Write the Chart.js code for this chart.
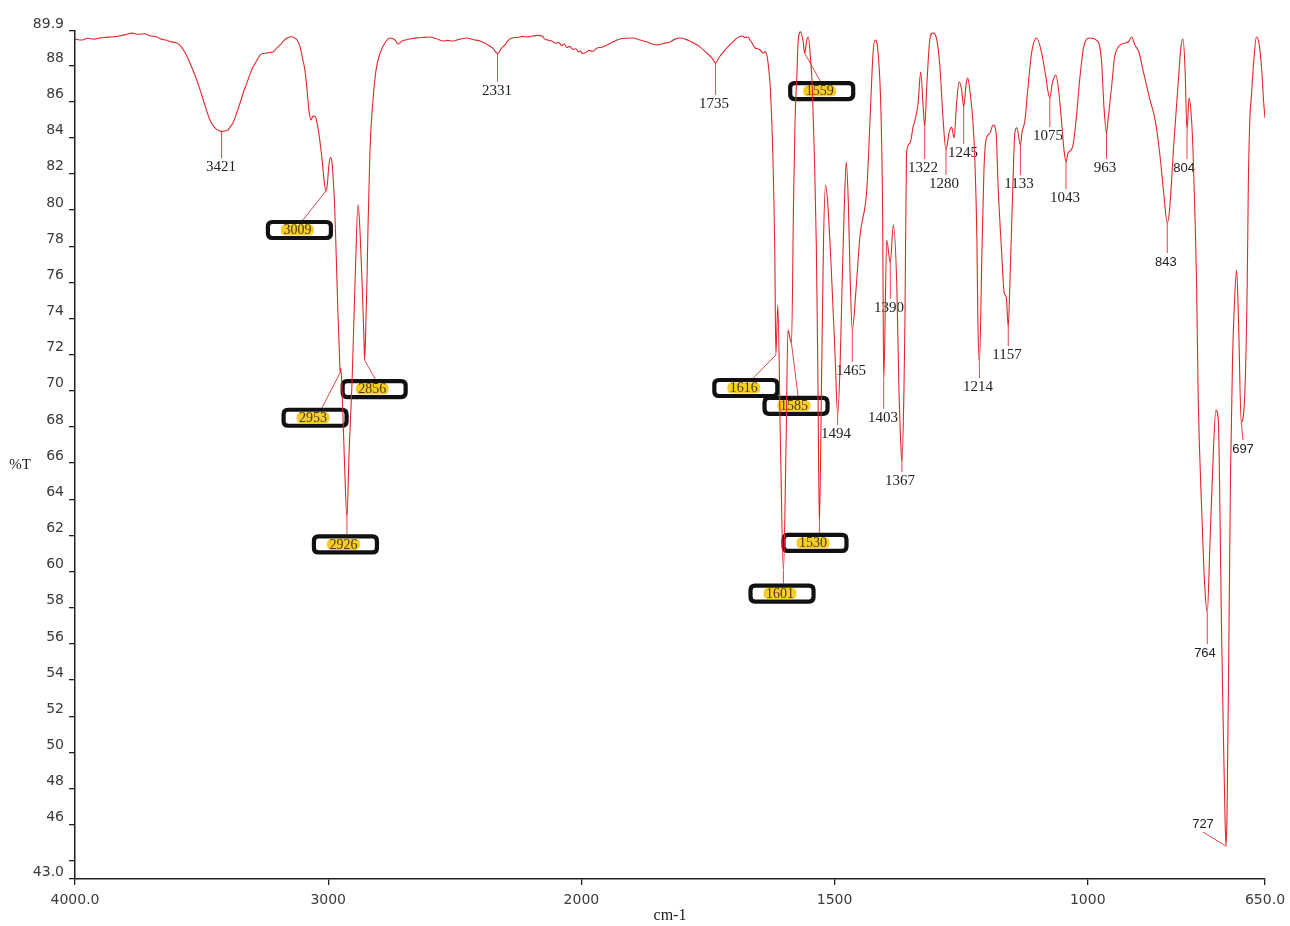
<!DOCTYPE html>
<html>
<head>
<meta charset="utf-8">
<script src="https://cdn.jsdelivr.net/npm/chart.js@4/dist/chart.umd.min.js"></script>
<style>
  html, body { margin: 0; padding: 0; background: #ffffff; }
  #wrap { width: 1290px; height: 926px; position: relative; }
</style>
</head>
<body>
<div id="wrap"><canvas id="c" width="1290" height="926"></canvas></div>
<script>
// ---------------- DATA ----------------
const wavenumbers = [
4000,3975,3950,3925,3900,3875,3850,3825,3800,3775,3750,3725,3700,3680,3660,3640,3620,3600,3585,3565,
3546,3526,3506,3487,3467,3447,3430,3421,3405,3396,3386,3376,3362,3348,3335,3321,3309,3297,3283,3269,
3255,3242,3230,3218,3204,3190,3176,3163,3150,3143,3133,3123,3111,3100,3092,3086,3080,3075,3068,3060,
3050,3044,3038,3030,3024,3016,3009,3004,2997,2992,2986,2980,2975,2969,2961,2955,2953,2950,2944,2935,
2926,2917,2906,2894,2882,2874,2866,2859,2856,2851,2847,2843,2835,2823,2811,2795,2776,2756,2736,2724,
2716,2708,2690,2677,2650,2620,2598,2575,2547,2527,2507,2480,2452,2425,2400,2385,2369,2350,2331,2315,
2302,2288,2274,2250,2232,2215,2195,2172,2156,2144,2132,2118,2100,2090,2078,2068,2058,2046,2033,2022,
2012,2005,1998,1993,1985,1978,1969,1960,1949,1937,1924,1910,1898,1884,1870,1860,1849,1837,1825,1815,
1805,1795,1786,1776,1766,1755,1742,1735,1730,1726,1720,1710,1701,1692,1683,1677,1671,1667,1663,1657,
1652,1647,1641,1637,1633,1630,1627,1622,1618,1616,1612,1607,1601,1596,1592,1585,1581,1578,1574,1572,
1567,1562,1559,1555,1552,1548,1544,1540,1536,1533,1530,1526,1522,1518,1514,1507,1499,1494,1489,1485,
1481,1477,1473,1469,1465,1458,1450,1436,1430,1424,1420,1414,1408,1405,1403,1397,1390,1384,1377,1373,
1369,1367,1363,1361,1358,1351,1345,1341,1335,1330,1325,1322,1318,1312,1306,1298,1292,1286,1280,1274,
1269,1264,1259,1254,1249,1245,1240,1237,1233,1227,1223,1219,1217,1214,1209,1205,1201,1193,1187,1181,
1177,1170,1165,1161,1157,1154,1148,1144,1140,1133,1130,1124,1118,1111,1101,1091,1084,1075,1070,1063,
1057,1052,1047,1043,1039,1030,1023,1016,1008,996,983,973,968,963,960,953,947,940,936,926,
920,913,907,899,891,877,867,858,850,843,838,830,822,816,812,808,804,800,795,792,
788,785,782,775,769,764,759,752,747,742,739,736,732,729,727,725,721,718,714,710,
706,702,697,690,685,683,680,677,672,667,662,656,653,650
];
const transmittance = [
89.45,89.40,89.50,89.45,89.52,89.55,89.58,89.62,89.70,89.78,89.72,89.75,89.62,89.60,89.45,89.40,89.30,89.25,89.10,88.70,
88.13,87.45,86.64,85.80,84.98,84.54,84.38,84.35,84.38,84.42,84.62,84.81,85.35,85.92,86.50,87.03,87.50,87.91,88.25,88.57,
88.66,88.68,88.72,88.74,88.95,89.13,89.35,89.51,89.57,89.58,89.52,89.40,89.02,88.30,87.74,87.00,86.08,85.40,84.98,85.20,
85.15,84.80,84.35,83.50,82.77,81.60,81.05,81.35,82.50,82.90,82.75,81.70,80.40,77.80,74.10,71.80,71.00,71.25,69.50,65.80,
63.00,66.80,70.40,75.95,80.30,78.73,75.96,72.98,71.70,73.80,75.96,78.90,83.30,86.10,87.74,88.68,89.24,89.51,89.40,89.18,
89.25,89.35,89.42,89.46,89.52,89.55,89.57,89.48,89.35,89.38,89.35,89.45,89.51,89.42,89.35,89.25,89.13,88.95,88.65,88.95,
89.13,89.40,89.51,89.55,89.60,89.57,89.62,89.66,89.62,89.45,89.40,89.35,89.22,89.28,89.10,89.18,88.98,89.05,88.88,88.92,
88.74,88.80,88.66,88.68,88.82,88.78,88.96,89.00,89.13,89.30,89.46,89.50,89.51,89.40,89.29,89.18,89.13,89.22,89.29,89.45,
89.51,89.45,89.35,89.20,89.02,88.75,88.40,88.13,88.35,88.52,88.72,89.05,89.29,89.52,89.62,89.55,89.57,89.40,89.24,88.96,
88.92,88.85,88.68,88.76,88.46,87.80,86.80,83.15,77.62,71.98,74.75,67.28,60.03,66.73,73.36,72.60,80.50,84.98,87.74,89.35,
89.85,89.30,88.68,89.40,89.57,88.57,86.80,83.15,78.00,71.00,62.58,70.00,78.00,81.38,80.55,77.01,71.98,68.66,71.50,76.00,
80.00,82.65,80.55,76.02,73.36,75.46,78.51,81.27,84.98,88.68,89.40,88.68,84.98,79.45,70.49,78.34,77.07,79.17,75.74,70.21,
66.89,66.00,70.00,73.92,83.15,83.71,84.59,84.98,85.92,87.63,85.70,84.59,86.80,89.40,89.79,89.40,87.91,85.14,83.32,84.26,
84.59,83.98,85.92,87.08,86.64,85.70,87.02,87.30,86.64,84.98,82.77,78.51,73.92,71.54,77.62,82.21,83.87,84.26,84.70,84.26,
81.27,77.62,75.41,75.19,73.53,75.74,81.27,84.26,84.54,83.59,84.26,84.98,86.80,88.68,89.51,88.68,87.58,86.19,87.02,87.47,
86.47,84.98,83.32,82.65,83.15,83.48,84.98,87.19,89.02,89.51,89.40,88.30,85.70,84.26,84.98,86.80,88.46,89.02,89.13,89.24,
89.29,89.57,89.13,88.74,87.74,86.08,84.98,83.15,80.94,79.28,80.17,83.71,86.80,89.02,89.46,87.91,84.42,86.19,84.98,83.15,
79.45,75.74,69.77,63.41,59.20,57.71,61.31,66.61,68.94,68.27,63.41,57.10,50.74,46.48,44.82,46.48,57.10,65.56,71.87,75.08,
76.68,73.50,68.27,69.77,76.13,81.27,84.98,86.25,88.30,89.57,89.24,87.58,86.08,85.09
];

// axis ticks
const xTickValues = [4000, 3000, 2000, 1500, 1000, 650];
const xTickLabels = ['4000.0', '3000', '2000', '1500', '1000', '650.0'];
const yTickValues = [43, 44, 46, 48, 50, 52, 54, 56, 58, 60, 62, 64, 66, 68, 70, 72, 74, 76, 78, 80, 82, 84, 86, 88, 89.9];
const yTickLabels = ['43.0', '', '46', '48', '50', '52', '54', '56', '58', '60', '62', '64', '66', '68', '70', '72', '74', '76', '78', '80', '82', '84', '86', '88', '89.9'];

// peak labels (wavenumbers that were picked)
const boxedPeaks = [3009, 2953, 2926, 2856, 1616, 1601, 1585, 1559, 1530];
const plainPeaks = [3421, 2331, 1735, 1494, 1465, 1403, 1390, 1367, 1322, 1280, 1245, 1214, 1157, 1133, 1075, 1043, 963, 843, 804, 764, 727, 697];

// ---------------- LAYOUT of the labels (pixel offsets from the peak point) ----------------
const labelLayout = {
  3009: {dx: -26.5, dy: 39, lead: [3.5, -10]},
  2953: {dx: -25, dy: 45, lead: [7, -10]},
  2856: {dx: 9.5, dy: 29, lead: [1, -10]},
  2926: {dx: -1.5, dy: 27, lead: [1.5, -10]},
  1559: {dx: 17, dy: 38, lead: [-1.5, -10]},
  1616: {dx: -30, dy: 33, lead: [7.5, -10]},
  1585: {dx: 4.5, dy: 62, lead: [2, -10]},
  1530: {dx: -4.4, dy: 18, lead: [4.4, -10]},
  1601: {dx: -1.4, dy: 22.5, lead: [1.4, -10]},
  3421: {dx: -0.5, dy: 36}, 2331: {dx: -0.5, dy: 37}, 1735: {dx: -1.5, dy: 41},
  1494: {dx: -1.5, dy: 19}, 1465: {dx: -1.3, dy: 41}, 1403: {dx: -0.7, dy: 36},
  1390: {dx: -1.3, dy: 45}, 1367: {dx: -2, dy: 18}, 1322: {dx: -1.7, dy: 41},
  1280: {dx: -2, dy: 34}, 1245: {dx: -0.7, dy: 46}, 1214: {dx: -1.4, dy: 24},
  1157: {dx: -1.3, dy: 28}, 1133: {dx: -1.4, dy: 39}, 1075: {dx: -1.8, dy: 38},
  1043: {dx: -1, dy: 36}, 963: {dx: -1.5, dy: 35},
  843: {dx: -1.3, dy: 39, sans: true}, 804: {dx: -3, dy: 38, sans: true},
  764: {dx: -2.3, dy: 40, sans: true}, 727: {dx: -23, dy: -22, lead: [0, 8], sans: true},
  697: {dx: 1.8, dy: 27, lead: [0, -9], sans: true}
};

// ---------------- custom wavenumber axis (2x expansion below 2000 cm-1) ----------------
const BREAK = 2000, WMAX = 4000, WMIN = 650;
function toU(w) { return w >= BREAK ? WMAX - w : (WMAX - BREAK) + 2 * (BREAK - w); }
function fromU(u) { return u <= (WMAX - BREAK) ? WMAX - u : BREAK - (u - (WMAX - BREAK)) / 2; }
const U_TOTAL = toU(WMIN);

class WavenumberScale extends Chart.LinearScale {
  buildTicks() { return xTickValues.map(v => ({value: v})); }
  getPixelForValue(v) { return this.getPixelForDecimal(toU(v) / U_TOTAL); }
  getValueForPixel(p) { return fromU(this.getDecimalForPixel(p) * U_TOTAL); }
}
WavenumberScale.id = 'wavenumber';
WavenumberScale.defaults = {};
Chart.register(WavenumberScale);

function rr(ctx, x, y, w, h, r) {
  ctx.beginPath();
  ctx.moveTo(x + r, y);
  ctx.lineTo(x + w - r, y);
  ctx.quadraticCurveTo(x + w, y, x + w, y + r);
  ctx.lineTo(x + w, y + h - r);
  ctx.quadraticCurveTo(x + w, y + h, x + w - r, y + h);
  ctx.lineTo(x + r, y + h);
  ctx.quadraticCurveTo(x, y + h, x, y + h - r);
  ctx.lineTo(x, y + r);
  ctx.quadraticCurveTo(x, y, x + r, y);
  ctx.closePath();
}

const peakLabelPlugin = {
  id: 'peakLabels',
  beforeDatasetsDraw(chart) {
    const ctx = chart.ctx, xs = chart.scales.x, ys = chart.scales.y;
    ctx.save();
    const all = boxedPeaks.map(w => ({w, boxed: true})).concat(plainPeaks.map(w => ({w, boxed: false})));
    all.forEach(p => {
      const L = labelLayout[p.w];
      const i = wavenumbers.indexOf(p.w);
      const ax = xs.getPixelForValue(p.w), ay = ys.getPixelForValue(transmittance[i]);
      const cx = ax + L.dx, cy = ay + L.dy;
      ctx.strokeStyle = '#e2474b';
      ctx.lineWidth = 1;
      ctx.beginPath();
      ctx.moveTo(ax, ay);
      if (L.lead) ctx.lineTo(cx + L.lead[0], cy + L.lead[1]);
      else ctx.lineTo(ax, cy - 9);
      ctx.stroke();
      ctx.textAlign = 'center';
      ctx.textBaseline = 'middle';
      if (p.boxed) {
        rr(ctx, cx - 31.5, cy - 8, 63, 16, 4.5);
        ctx.fillStyle = '#ffffff';
        ctx.fill();
        ctx.lineWidth = 4.2;
        ctx.strokeStyle = '#111111';
        ctx.stroke();
        rr(ctx, cx - 18.5, cy - 5.5, 33, 11, 5);
        ctx.fillStyle = 'rgba(246,200,20,0.9)';
        ctx.fill();
        ctx.font = '14px "Liberation Serif"';
        ctx.fillStyle = '#4a3c00';
        ctx.fillText(String(p.w), cx - 2, cy + 0.5);
      } else {
        ctx.font = L.sans ? '13px "Liberation Sans"' : '15px "Liberation Serif"';
        ctx.fillStyle = '#222222';
        ctx.fillText(String(p.w), cx, cy);
      }
    });
    ctx.restore();
  },
  afterDraw(chart) {
    const ctx = chart.ctx, a = chart.chartArea;
    ctx.save();
    ctx.fillStyle = '#222222';
    ctx.textBaseline = 'middle';
    ctx.font = '16px "Liberation Serif"';
    ctx.textAlign = 'center';
    ctx.fillText('cm-1', (a.left + a.right) / 2, a.bottom + 37);
    ctx.font = '15px "Liberation Serif"';
    ctx.textAlign = 'right';
    ctx.fillText('%T', 31, (a.top + a.bottom) / 2 + 10);
    ctx.restore();
  }
};

const tickFont = {family: '"DejaVu Sans"', size: 14};

new Chart(document.getElementById('c'), {
  type: 'line',
  data: {
    datasets: [{
      data: wavenumbers.map((w, i) => ({x: w, y: transmittance[i]})),
      borderColor: '#e3262b',
      borderWidth: 1.1,
      pointRadius: 0,
      fill: false,
      cubicInterpolationMode: 'monotone'
    }]
  },
  options: {
    responsive: false,
    animation: false,
    devicePixelRatio: 1,
    events: [],
    layout: {padding: {top: 31, right: 25, bottom: 0, left: 0}},
    plugins: {legend: {display: false}, tooltip: {enabled: false}},
    scales: {
      x: {
        type: 'wavenumber',
        min: WMIN, max: WMAX,
        afterFit: s => { s.height = 47; s.paddingLeft = 0; s.paddingRight = 0; },
        grid: {display: true, drawOnChartArea: false, drawTicks: true, tickLength: 6, color: '#222', lineWidth: 1.3},
        border: {display: true, color: '#222', width: 1.5},
        ticks: {
          autoSkip: false, maxRotation: 0, padding: 7,
          font: tickFont, color: '#3a3a3a',
          callback: (v, i) => xTickLabels[i]
        }
      },
      y: {
        type: 'linear',
        min: 43, max: 89.9,
        afterFit: s => { s.width = 75; },
        afterBuildTicks: s => { s.ticks = yTickValues.map(v => ({value: v})); },
        grid: {display: true, drawOnChartArea: false, drawTicks: true, tickLength: 6, color: '#222', lineWidth: 1.3},
        border: {display: true, color: '#222', width: 1.5},
        ticks: {
          autoSkip: false, padding: 5, labelOffset: -7,
          font: tickFont, color: '#3a3a3a',
          callback: (v, i) => yTickLabels[i]
        }
      }
    }
  },
  plugins: [peakLabelPlugin]
});
</script>
</body>
</html>
